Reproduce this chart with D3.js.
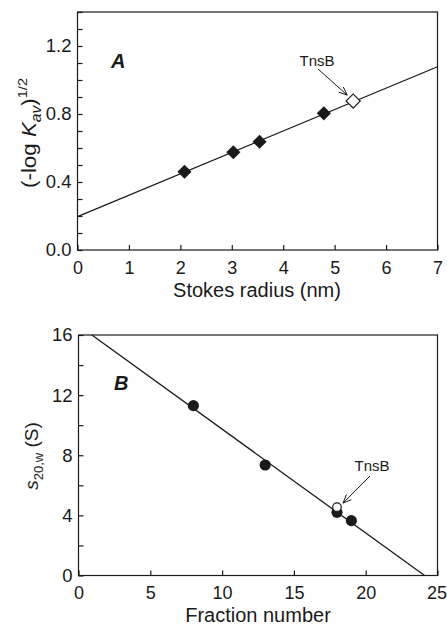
<!DOCTYPE html>
<html>
<head>
<meta charset="utf-8">
<script src="https://cdn.jsdelivr.net/npm/d3@7"></script>
<style>
  body { margin: 0; background: #fff; }
  text { font-family: "Liberation Sans", Arial, sans-serif; fill: #1a1a1a; }
</style>
</head>
<body>
<div id="chart"></div>
<script>
// panel A: gel filtration
var stokesRadius = [2.08, 3.03, 3.54, 4.79];
var kavRoot = [0.46, 0.575, 0.637, 0.804];
var tnsbA = {x: 5.36, y: 0.876};
var fitA = [[0, 0.196], [7, 1.078]];
var ticksAx = [0, 1, 2, 3, 4, 5, 6, 7];
var ticksAy = [0.0, 0.4, 0.8, 1.2];

// panel B: sedimentation
var fraction = [8, 13, 18, 19];
var sedCoef = [11.3, 7.35, 4.2, 3.65];
var tnsbB = {x: 18, y: 4.55};
var fitB = [[0.93, 16], [24.1, 0]];
var ticksBx = [0, 5, 10, 15, 20, 25];
var ticksBy = [0, 4, 8, 12, 16];

var ink = "#1a1a1a";

var svg = d3.select("#chart").append("svg")
    .attr("width", 447)
    .attr("height", 627);

function frame(g, x, y) {
  var r = x.range(), h = y.range();
  g.append("rect")
      .attr("x", r[0]).attr("y", h[1])
      .attr("width", r[1] - r[0]).attr("height", h[0] - h[1])
      .attr("fill", "none").attr("stroke", ink).attr("stroke-width", 1.2);
}

function axes(g, x, y, xt, yt, yMinor, yFmt) {
  var r = x.range(), h = y.range();
  // x axis: ticks pointing inward
  var ax = g.append("g")
      .attr("transform", "translate(0," + h[0] + ")")
      .call(d3.axisBottom(x).tickValues(xt).tickSize(-5).tickPadding(11).tickFormat(d3.format("d")));
  ax.select(".domain").remove();
  ax.selectAll("line").attr("stroke", ink).attr("stroke-width", 1.2);
  ax.selectAll("text").style("font-size", "18px").attr("fill", ink);

  var ay = g.append("g")
      .attr("transform", "translate(" + r[0] + ",0)")
      .call(d3.axisLeft(y).tickValues(yMinor).tickSize(-5).tickPadding(6)
        .tickFormat(function(d) { return yt.some(function(t) { return Math.abs(t - d) < 1e-9; }) ? yFmt(d) : ""; }));
  ay.select(".domain").remove();
  ay.selectAll("line").attr("stroke", ink).attr("stroke-width", 1.2);
  ay.selectAll("text").style("font-size", "18.5px").attr("fill", ink);
  return ax;
}

// ---------- panel A ----------
var xA = d3.scaleLinear().domain([0, 7]).range([77.5, 437.5]);
var yA = d3.scaleLinear().domain([0, 1.4]).range([250, 12]);
var gA = svg.append("g");

var minorA = d3.range(0, 15).map(function(i) { return i / 10; });
axes(gA, xA, yA, ticksAx, ticksAy, minorA, d3.format(".1f"));

gA.append("path")
    .datum(fitA)
    .attr("d", d3.line().x(function(d) { return xA(d[0]); }).y(function(d) { return yA(d[1]); }))
    .attr("stroke", ink).attr("stroke-width", 1.3).attr("fill", "none");

var diamond = d3.symbol().type(d3.symbolSquare).size(100);
gA.selectAll(".dA")
    .data(stokesRadius)
  .enter().append("path")
    .attr("class", "dA")
    .attr("d", diamond)
    .attr("transform", function(d, i) { return "translate(" + xA(d) + "," + yA(kavRoot[i]) + ") rotate(45)"; })
    .attr("fill", ink);

gA.append("path")
    .attr("d", diamond)
    .attr("transform", "translate(" + xA(tnsbA.x) + "," + yA(tnsbA.y) + ") rotate(45)")
    .attr("fill", "#fff").attr("stroke", ink).attr("stroke-width", 1.2);

frame(gA, xA, yA);

gA.append("text")
    .attr("x", 111).attr("y", 68)
    .style("font-size", "20px").style("font-weight", "bold").style("font-style", "italic")
    .text("A");

// y label A (squeezed to the narrow type of the original)
var labA = gA.append("text")
    .attr("transform", "translate(36,133) rotate(-90)")
    .attr("text-anchor", "middle")
    .attr("textLength", 110)
    .attr("lengthAdjust", "spacingAndGlyphs")
    .style("font-size", "20px");
labA.append("tspan").text("(-log ");
labA.append("tspan").style("font-style", "italic").text("K");
labA.append("tspan").style("font-style", "italic").style("font-size", "14px").attr("dy", 5).text("av");
labA.append("tspan").attr("dy", -5).text(")");
labA.append("tspan").style("font-size", "13px").attr("dy", -9).text("1/2");

gA.append("text")
    .attr("x", 257).attr("y", 297)
    .attr("text-anchor", "middle")
    .style("font-size", "20px")
    .text("Stokes radius (nm)");

// ---------- panel B ----------
var xB = d3.scaleLinear().domain([0, 25]).range([78.5, 437.5]);
var yB = d3.scaleLinear().domain([0, 16]).range([575.5, 335]);
var gB = svg.append("g");

var minorB = d3.range(0, 17, 2);
var axB = axes(gB, xB, yB, ticksBx, ticksBy, minorB, d3.format("d"));
// last label sits against the page edge
axB.selectAll("text").filter(function(d) { return d === 25; }).attr("dx", -1);

gB.append("path")
    .datum(fitB)
    .attr("d", d3.line().x(function(d) { return xB(d[0]); }).y(function(d) { return yB(d[1]); }))
    .attr("stroke", ink).attr("stroke-width", 1.3).attr("fill", "none");

gB.selectAll(".cB")
    .data(fraction)
  .enter().append("circle")
    .attr("class", "cB")
    .attr("cx", function(d) { return xB(d); })
    .attr("cy", function(d, i) { return yB(sedCoef[i]); })
    .attr("r", 5.6)
    .attr("fill", ink);

gB.append("circle")
    .attr("cx", xB(tnsbB.x)).attr("cy", yB(tnsbB.y))
    .attr("r", 4.3)
    .attr("fill", "#fff").attr("stroke", ink).attr("stroke-width", 1.2);

frame(gB, xB, yB);

gB.append("text")
    .attr("x", 114).attr("y", 390)
    .style("font-size", "20px").style("font-weight", "bold").style("font-style", "italic")
    .text("B");

var labB = gB.append("text")
    .attr("transform", "translate(38,456) rotate(-90)")
    .attr("text-anchor", "middle")
    .style("font-size", "19px");
labB.append("tspan").style("font-style", "italic").text("s");
labB.append("tspan").style("font-size", "13px").attr("dy", 5).text("20,w");
labB.append("tspan").attr("dy", -5).text(" (S)");

gB.append("text")
    .attr("x", 258).attr("y", 622)
    .attr("text-anchor", "middle")
    .style("font-size", "20px")
    .text("Fraction number");

// ---------- TnsB callouts ----------
function callout(g, tx, ty, x0, y0, x1, y1) {
  g.append("text")
      .attr("x", tx).attr("y", ty)
      .attr("text-anchor", "middle")
      .style("font-size", "15px")
      .text("TnsB");
  g.append("line")
      .attr("x1", x0).attr("y1", y0).attr("x2", x1).attr("y2", y1)
      .attr("stroke", ink).attr("stroke-width", 1);
  var a = Math.atan2(y1 - y0, x1 - x0), L = 9, w = 0.4;
  var head = [
    [x1 - L * Math.cos(a - w), y1 - L * Math.sin(a - w)],
    [x1, y1],
    [x1 - L * Math.cos(a + w), y1 - L * Math.sin(a + w)]
  ];
  g.append("path")
      .attr("d", d3.line()(head))
      .attr("stroke", ink).attr("stroke-width", 1).attr("fill", "none");
}

callout(gA, 317, 66, 318, 69, xA(tnsbA.x) - 6, yA(tnsbA.y) - 6);
callout(gB, 372, 471, 370, 476, xB(tnsbB.x) + 6, yB(tnsbB.y) - 4);
</script>
</body>
</html>
